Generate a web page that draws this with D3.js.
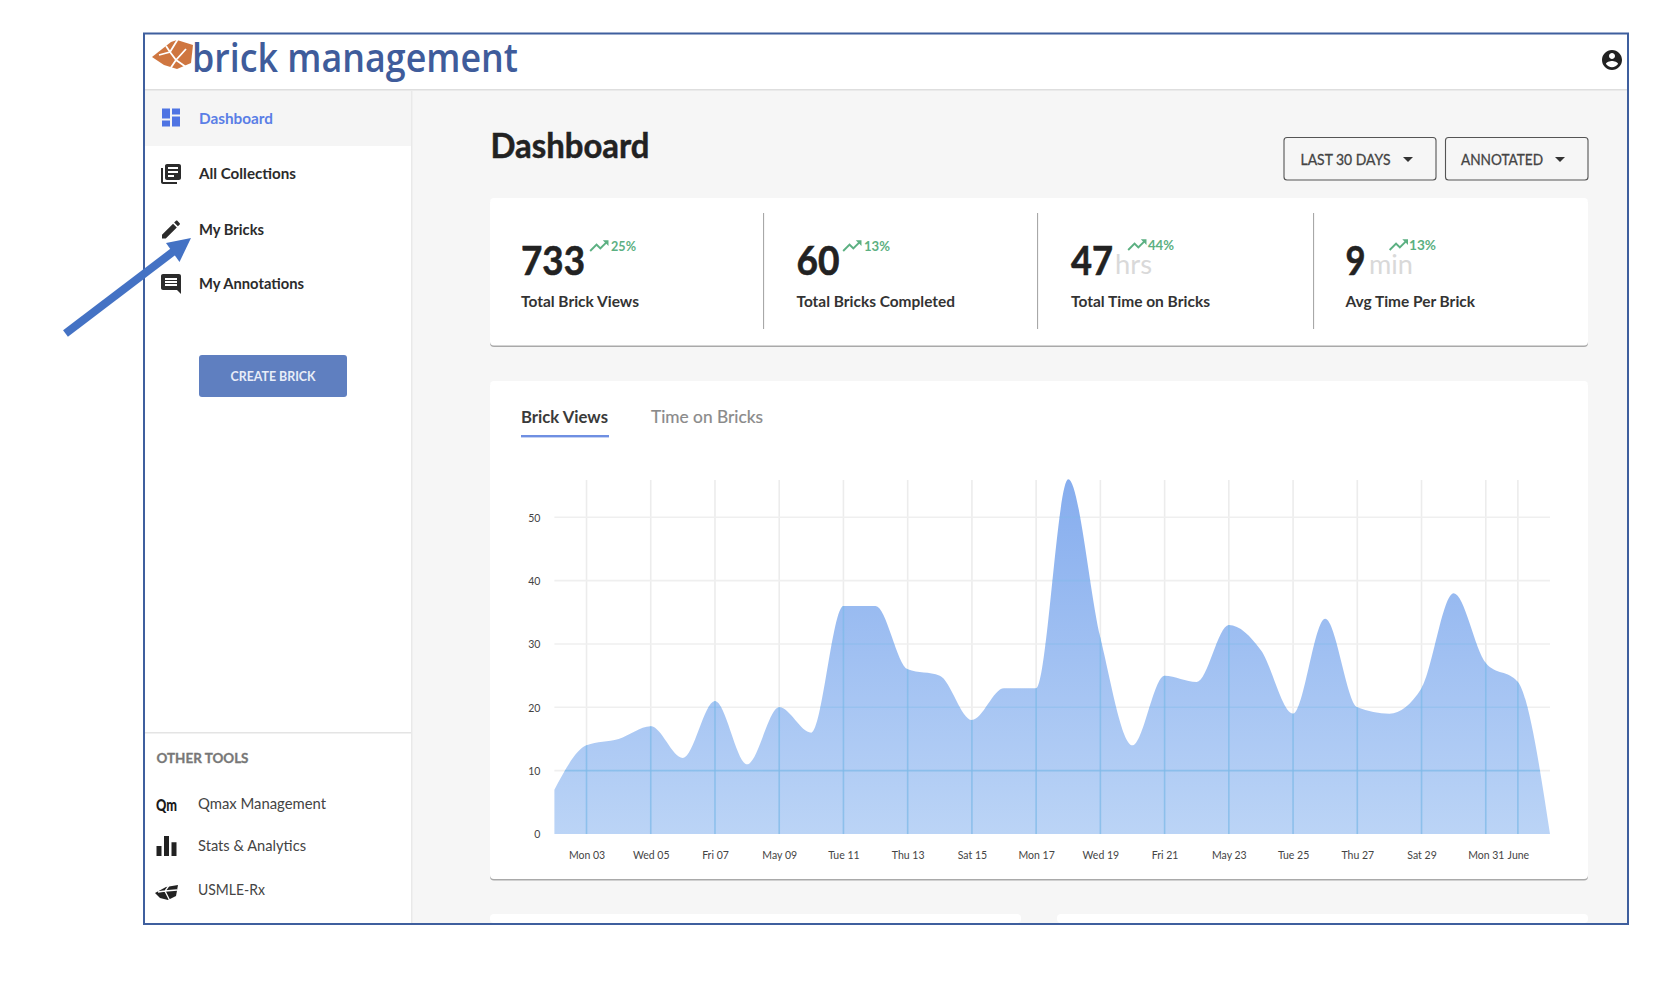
<!DOCTYPE html>
<html><head><meta charset="utf-8">
<script src="https://cdn.jsdelivr.net/npm/d3@7"></script>
<style>html,body{margin:0;padding:0;background:#fff}svg{display:block}text{font-family:Lato,"Noto Sans",sans-serif}</style>
</head><body><svg id="c" width="1680" height="984"></svg>
<script>
// ---- chart data ----
const days = [2,3,4,5,6,7,8,9,10,11,12,13,14,15,16,17,18,19,20,21,22,23,24,25,26,27,28,29,30,31,32,33];
const brickViews = [7,14,15,17,12,21,11,20,16,36,36,26,25,18,23,23,56,31,14,25,24,33,29,19,34,20,19,23,38,27,24,0];
const xTickDays = [3,5,7,9,11,13,15,17,19,21,23,25,27,29,31,32];
const xTickLabels = ["Mon 03","Wed 05","Fri 07","May 09","Tue 11","Thu 13","Sat 15","Mon 17","Wed 19","Fri 21","May 23","Tue 25","Thu 27","Sat 29","Mon 31","June"];
const yTickValues = [0,10,20,30,40,50];
// ---- page content ----
const navLabels = ["Dashboard","All Collections","My Bricks","My Annotations"];
const toolLabels = ["Qmax Management","Stats & Analytics","USMLE-Rx"];
const statValues = ["733","60","47","9"];
const statUnits = ["","","hrs","min"];
const statChanges = ["25%","13%","44%","13%"];
const statLabels = ["Total Brick Views","Total Bricks Completed","Total Time on Bricks","Avg Time Per Brick"];

const ICON = {
 dash:"M3 13h8V3H3v10zm0 8h8v-6H3v6zm10 0h8V11h-8v10zm0-18v6h8V3h-8z",
 books:"M4 6H2v14c0 1.1.9 2 2 2h14v-2H4V6zm16-4H8c-1.1 0-2 .9-2 2v12c0 1.1.9 2 2 2h12c1.1 0 2-.9 2-2V4c0-1.1-.9-2-2-2zm-1 9H9V9h10v2zm-4 4H9v-2h6v2zm4-8H9V5h10v2z",
 edit:"M3 17.25V21h3.75L17.81 9.94l-3.75-3.75L3 17.25zM20.71 7.04c.39-.39.39-1.02 0-1.41l-2.34-2.34c-.39-.39-1.02-.39-1.41 0l-1.83 1.83 3.75 3.75 1.83-1.83z",
 chat:"M21.99 4c0-1.1-.89-2-1.99-2H4c-1.1 0-2 .9-2 2v12c0 1.1.9 2 2 2h14l4 4-.01-18zM18 14H6v-2h12v2zm0-3H6V9h12v2zm0-3H6V6h12v2z",
 user:"M12 2C6.48 2 2 6.48 2 12s4.48 10 10 10 10-4.48 10-10S17.52 2 12 2zm0 3c1.66 0 3 1.34 3 3s-1.34 3-3 3-3-1.34-3-3 1.34-3 3-3zm0 14.2c-2.5 0-4.71-1.28-6-3.22.03-1.99 4-3.08 6-3.08 1.99 0 5.97 1.09 6 3.08-1.29 1.94-3.5 3.22-6 3.22z",
 trend:"M16 6l2.29 2.29-4.88 4.88-4-4L2 16.59 3.41 18l6-6 4 4 6.3-6.29L22 12V6z",
 bars:"M10 20h4V4h-4v16zm-6 0h4v-8H4v8zM16 9v11h4V9h-4z"
};
const svg = d3.select("#c");
function txt(x,cy,s,o={}){
  const size=o.size||15;
  const t=svg.append("text").attr("x",x).attr("y",cy+size*0.35).text(s)
    .attr("font-size",size).attr("font-weight",o.weight||400).attr("fill",o.fill||"#333")
    .attr("text-anchor",o.anchor||"start");
  if(o.width) t.attr("textLength",o.width).attr("lengthAdjust","spacingAndGlyphs");
  if(o.family) t.style("font-family",o.family);
  if(o.heavy) t.attr("stroke",o.fill||"#333").attr("stroke-width",o.heavy);
  return t;
}
function icon(d,cx,cy,scale,fill){
  svg.append("path").attr("d",d).attr("fill",fill)
    .attr("transform",`translate(${cx-12*scale},${cy-12*scale}) scale(${scale})`);
}
function rect(x,y,w,h,fill,rx){return svg.append("rect").attr("x",x).attr("y",y).attr("width",w).attr("height",h).attr("fill",fill).attr("rx",rx||0);}

// page panels
rect(144,33,1484,891,"#fff");
rect(412,90,1216,834,"#f6f6f6");
rect(145,90,266,56,"#f5f5f5");
rect(144,89,1484,1.5,"#dedede");
rect(411,90,1.5,834,"#e9e9e9");
rect(145,732,266,1.5,"#e4e4e4");

// logo
const logo=svg.append("g");
logo.append("path").attr("d","M152 57 L171 42 L177 40 L193 45 L191 63 L177 69 L164 65 Z").attr("fill","#cf7640");
logo.append("path").attr("d","M178 39 L170 52 L159 55 M170 52 L176 60 L170 69 M176 60 L186 49 M176 60 L186 67 M170 52 L166 46").attr("fill","none").attr("stroke","#fff").attr("stroke-width",1.8);
txt(192,57.5,"brick management",{size:40,weight:600,fill:"#3f5c9b",width:326,family:"'Open Sans'"});
icon(ICON.user,1612,60,1,"#222");

// sidebar nav
const navY=[118.5,174,229.5,284], navIcons=[ICON.dash,ICON.books,ICON.edit,ICON.chat];
navLabels.forEach((l,i)=>{
  const c=i==0?"#5a7ee6":"#2b2b2b";
  icon(navIcons[i],171,navY[i]-(i==0?1:0),1,i==0?"#4f74e3":"#2b2b2b");
  txt(199,navY[i],l,{size:15,weight:700,fill:c,width:[74,97,65,105][i]});
});
rect(199,355,148,42,"#5f7fc0",3);
txt(273,376.5,"CREATE BRICK",{size:12.5,weight:700,fill:"#e8edf8",anchor:"middle",width:85});

// other tools
txt(156.5,758,"OTHER TOOLS",{size:13.5,weight:700,fill:"#777",width:92,heavy:.3});
const toolY=[803.5,846,889.5],toolW=[128,108,67];
toolLabels.forEach((l,i)=>txt(198,toolY[i],l,{size:15,fill:"#444",width:toolW[i]}));
txt(156,805,"Qm",{size:16,weight:900,fill:"#1a1a1a",width:21});
icon(ICON.bars,166.5,846,1.25,"#222");
const b2=svg.append("g");
b2.append("path").attr("d","M155 893 L166 887 L178 885 L176 896 L168 900 L160 898 Z").attr("fill","#222");
b2.append("path").attr("d","M170 884 L165 891 L170 901 M165 891 L158 892 M165 891 L177 890").attr("fill","none").attr("stroke","#fff").attr("stroke-width",1.3);

// header
txt(490.5,146.5,"Dashboard",{size:34,weight:700,fill:"#222",width:159,heavy:.5});
[[1284,152,"LAST 30 DAYS",1300.5,90,1408],[1445.5,142.5,"ANNOTATED",1461,82,1560]].forEach(d=>{
  svg.append("rect").attr("x",d[0]).attr("y",137.5).attr("width",d[1]).attr("height",42.5).attr("rx",3)
     .attr("fill","#f6f6f6").attr("stroke","#555").attr("stroke-width",1.1);
  txt(d[3],159.5,d[2],{size:15,weight:400,fill:"#444",width:d[4],heavy:.3});
  svg.append("path").attr("d",`M${d[5]-5} 157 h10 l-5 5 z`).attr("fill","#333");
});

// cards
function card(x,y,w,h){rect(x,y+1.5,w,h,"#a9a9a9",4);rect(x,y,w,h,"#fff",4);}
card(490,198,1098,147.5);
card(490,381,1098,498);
rect(490,914,531,9,"#fff",4);rect(1057,914,531,9,"#fff",4);

// stats
[763.5,1037.5,1313.5].forEach(x=>rect(x-.5,213,1.1,116,"#a8a8a8"));
const statX=[521,796.5,1071,1345.5], statW=[64,43,42,20], unitX=[0,0,1115,1369], unitW=[0,0,37,44],
      iconX=[599,852,1137,1398.5], chgX=[611,864,1148,1409], chgW=[25,26,26,27], chgY=[246,246,245,245], labW=[118,158.5,139,129.5];
statValues.forEach((v,i)=>{
  txt(statX[i],261,v,{size:40,weight:700,fill:"#222",width:statW[i],heavy:.6});
  if(statUnits[i]) txt(unitX[i],265,statUnits[i],{size:27,fill:"#d9d9d9",width:unitW[i]});
  icon(ICON.trend,iconX[i],chgY[i],0.95,"#5cb082");
  txt(chgX[i],chgY[i],statChanges[i],{size:13,weight:700,fill:"#5cb082",width:chgW[i]});
  txt(statX[i],302,statLabels[i],{size:15,weight:700,fill:"#333",width:labW[i]});
});

// tabs
txt(521,417,"Brick Views",{size:17,weight:700,fill:"#3a3a3a",width:87});
txt(651,417,"Time on Bricks",{size:17,fill:"#8a8a8a",width:112,heavy:.2});
rect(521,435,88,2.4,"#6f8fe2");

// chart
const x=d3.scaleLinear().domain([2,33]).range([554.4,1550]);
const y=d3.scaleLinear().domain([0,50]).range([834,517.3]);
const chartTop=480;
const defs=svg.append("defs");
const grad=defs.append("linearGradient").attr("id","ag").attr("gradientUnits","userSpaceOnUse")
  .attr("x1",0).attr("x2",0).attr("y1",chartTop).attr("y2",y(0));
grad.append("stop").attr("offset",0).attr("stop-color","#86adee");
grad.append("stop").attr("offset",1).attr("stop-color","#bbd4f6");
const area=d3.area().x((d,i)=>x(days[i])).y0(y(0)).y1(d=>y(d)).curve(d3.curveMonotoneX);
defs.append("clipPath").attr("id","ac").append("path").attr("d",area(brickViews));

const gGrid=svg.append("g");
gGrid.selectAll(".v").data(xTickDays).join("line").attr("class","v").attr("x1",d=>x(d)).attr("x2",d=>x(d))
  .attr("y1",chartTop).attr("y2",y(0)).attr("stroke","#ececec").attr("stroke-width",1.6);
gGrid.selectAll(".h").data(yTickValues.slice(1)).join("line").attr("class","h").attr("x1",x.range()[0]).attr("x2",x.range()[1])
  .attr("y1",d=>y(d)).attr("y2",d=>y(d)).attr("stroke","#efefef").attr("stroke-width",1.6);
svg.append("path").attr("d",area(brickViews)).attr("fill","url(#ag)");
const g2=svg.append("g").attr("clip-path","url(#ac)");
g2.selectAll(".v2").data(xTickDays).join("line").attr("class","v2").attr("x1",d=>x(d)).attr("x2",d=>x(d))
  .attr("y1",chartTop).attr("y2",y(0)).attr("stroke","#7fbae8").attr("stroke-width",1.6).attr("opacity",.75);
g2.selectAll(".h2").data(yTickValues.slice(1)).join("line").attr("class","h2").attr("x1",x.range()[0]).attr("x2",x.range()[1])
  .attr("y1",d=>y(d)).attr("y2",d=>y(d)).attr("stroke","#7fbae8").attr("stroke-width",1.6).attr("opacity",d=>d==10?.75:.4);

const xAxis=d3.axisBottom(x).tickValues(xTickDays).tickFormat(d=>xTickLabels[xTickDays.indexOf(d)]).tickSize(0).tickPadding(18);
const gx=svg.append("g").attr("transform",`translate(0,${y(0)})`).call(xAxis);
const yAxis=d3.axisLeft(y).tickValues(yTickValues).tickSize(0).tickPadding(14);
const gy=svg.append("g").attr("transform",`translate(554.4,0.5)`).call(yAxis);
[gx,gy].forEach(g=>{g.select(".domain").remove();g.selectAll("text").attr("font-size",10.5).attr("fill","#444").style("font-family","Lato");});

// frame & arrow
svg.append("rect").attr("x",144).attr("y",33.5).attr("width",1484).attr("height",890.5).attr("fill","none").attr("stroke","#3f5f9e").attr("stroke-width",2);
svg.append("line").attr("x1",65.5).attr("y1",333.5).attr("x2",176).attr("y2",249.5).attr("stroke","#4472c4").attr("stroke-width",8);
svg.append("path").attr("d","M191 238 L166 243 L179.5 262 Z").attr("fill","#4472c4");
</script></body></html>
